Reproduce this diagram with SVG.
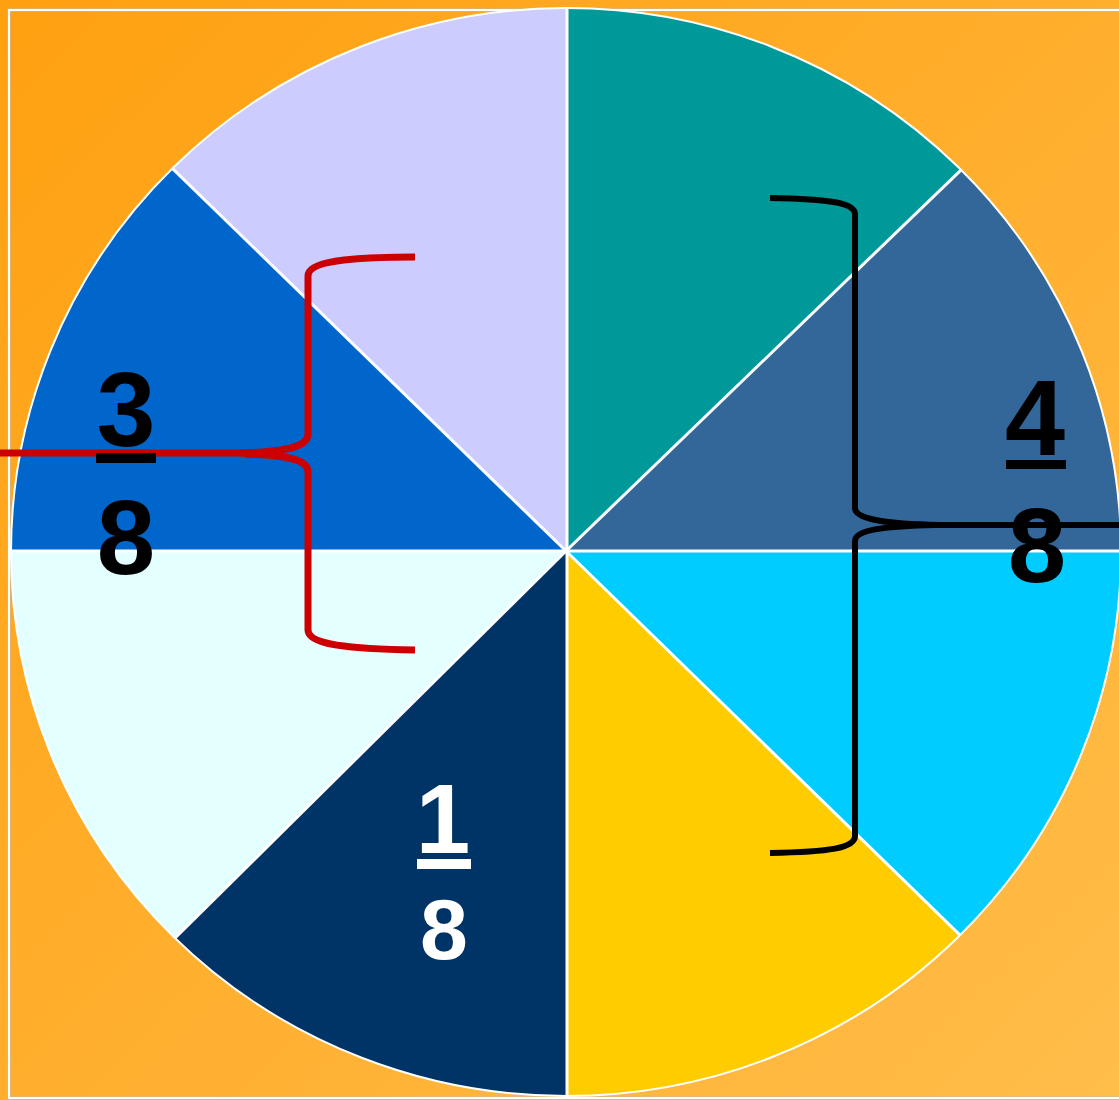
<svg xmlns="http://www.w3.org/2000/svg" width="1119" height="1100" viewBox="0 0 1119 1100">
<style>
.num{font-family:"Liberation Sans",Arial,sans-serif;font-weight:bold;text-anchor:middle}
.blk{fill:#000}
.wht{fill:#fff}
.div{stroke:#fff;stroke-width:3;fill:none}
.brace{fill:none;stroke-linecap:butt;stroke-linejoin:round}
</style>
<defs>
<linearGradient id="bg" x1="0" y1="0" x2="1" y2="1">
<stop offset="0" stop-color="#FFA010"/>
<stop offset="1" stop-color="#FFBD4A"/>
</linearGradient>
<clipPath id="disc"><ellipse cx="566" cy="552" rx="555" ry="544"/></clipPath>
</defs>
<rect x="0" y="0" width="1119" height="1100" fill="url(#bg)"/>
<rect x="9" y="10" width="1120" height="1088" fill="none" stroke="#BBBBBB" stroke-width="3"/>
<rect x="9" y="10" width="1120" height="1088" fill="none" stroke="#FFFFFF" stroke-width="2"/>
<g id="pie" clip-path="url(#disc)">
<g id="sector-lavender"><polygon points="566,551 566,-300 -216,-209" fill="#CCCCFF"/></g>
<g id="sector-teal"><polygon points="566,551 566,-300 1354,-209" fill="#009999"/></g>
<g id="sector-steel"><polygon points="566,551 1354,-209 1400,551" fill="#336699"/></g>
<g id="sector-cyan"><polygon points="566,551 1400,551 1358,1323" fill="#00CCFF"/></g>
<g id="sector-yellow"><polygon points="566,551 1358,1323 566,1400" fill="#FFCC00"/></g>
<g id="sector-navy"><polygon points="566,551 566,1400 -216,1325" fill="#003366"/></g>
<g id="sector-lightcyan"><polygon points="566,551 -216,1325 -300,551" fill="#E3FFFF"/></g>
<g id="sector-blue"><polygon points="566,551 -300,551 -216,-209" fill="#0066CC"/></g>
<g id="dividers">
<line class="div" x1="567" y1="0" x2="567" y2="1100"/>
<line class="div" x1="0" y1="551" x2="1130" y2="551"/>
<line class="div" x1="566" y1="551" x2="-216" y2="-209"/>
<line class="div" x1="566" y1="551" x2="1354" y2="-209"/>
<line class="div" x1="566" y1="551" x2="1358" y2="1323"/>
<line class="div" x1="566" y1="551" x2="-216" y2="1325"/>
</g>
</g>
<ellipse cx="566" cy="552" rx="555" ry="544" fill="none" stroke="#FFFFFF" stroke-width="2"/>
<g id="connectors">
<g id="brace-red" stroke="#CC0000" stroke-width="7" class="brace">
<path d="M415,257 C345,257 308,262 308,276 L308,434 C308,447 285,452 240,453"/>
<path d="M245,454 C285,455 308,459 308,472 L308,630 C308,644 345,649 415,650"/>
<path d="M0,453 H262"/>
</g>
<g id="brace-black" stroke="#000000" stroke-width="6" class="brace">
<path d="M770,198 C830,199 855,203 855,214 L855,508 C855,519 885,524 940,525"/>
<path d="M935,525 C885,526 855,530 855,541 L855,836 C855,848 830,852 770,853"/>
<path d="M900,525 H1119"/>
</g>
</g>
<g id="label-3-8">
<text class="num blk" x="126" y="446" font-size="106">3</text>
<rect x="96" y="453" width="60" height="10" fill="#000"/>
<text class="num blk" x="126" y="574" font-size="105">8</text>
</g>
<g id="label-4-8">
<text class="num blk" x="1035" y="455" font-size="108">4</text>
<rect x="1006" y="460" width="60" height="9" fill="#000"/>
<text class="num blk" x="1037" y="582" font-size="105">8</text>
</g>
<g id="label-1-8">
<text class="num wht" x="443" y="853" font-size="98">1</text>
<rect x="417" y="859" width="54" height="10" fill="#fff"/>
<text class="num wht" x="444" y="959" font-size="86">8</text>
</g>
</svg>
